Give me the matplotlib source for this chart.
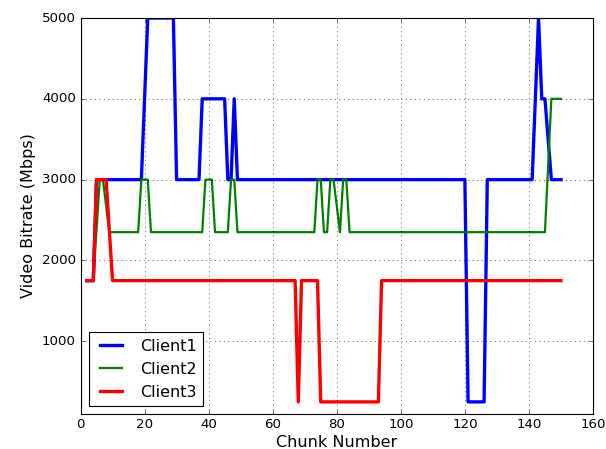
import matplotlib
matplotlib.use("Agg")
import matplotlib.pyplot as plt

# Polyline vertices (chunk number, bitrate)
client1_x = [2, 4, 5, 19, 20, 21, 29, 30, 37, 38, 45, 46, 47, 48, 49,
             120, 121, 126, 127, 141, 142, 143, 144, 145, 147, 150]
client1_y = [1750, 1750, 3000, 3000, 4000, 5000, 5000, 3000, 3000, 4000, 4000, 3000, 3000, 4000, 3000,
             3000, 250, 250, 3000, 3000, 4000, 5000, 4000, 4000, 3000, 3000]

client2_x = [2, 4, 6, 7, 9, 18, 19, 21, 22, 38, 39, 41, 42, 46, 47, 48, 49,
             73, 74, 75, 76, 77, 78, 79, 81, 82, 83, 84, 145, 147, 150]
client2_y = [1750, 1750, 3000, 3000, 2350, 2350, 3000, 3000, 2350, 2350, 3000, 3000, 2350, 2350, 3000, 3000, 2350,
             2350, 3000, 3000, 2350, 2350, 3000, 3000, 2350, 3000, 3000, 2350, 2350, 4000, 4000]

client3_x = [2, 4, 5, 8, 10, 67, 68, 69, 74, 75, 93, 94, 150]
client3_y = [1750, 1750, 3000, 3000, 1750, 1750, 250, 1750, 1750, 250, 250, 1750, 1750]

plt.style.use('classic')
fig = plt.figure(figsize=(606 / 80, 449 / 80), dpi=80)
ax = fig.add_axes([80.5 / 606, 1 - 414 / 449, (593 - 80.5) / 606, (414 - 18) / 449])

ax.plot(client1_x, client1_y, color='b', linewidth=3, label='Client1')
ax.plot(client2_x, client2_y, color='g', linewidth=2, label='Client2')
ax.plot(client3_x, client3_y, color='r', linewidth=3, label='Client3')

ax.set_xlim(0, 160)
ax.set_ylim(100, 5000)
ax.set_yticks([1000, 2000, 3000, 4000, 5000])
ax.set_xlabel('Chunk Number', fontsize='large', labelpad=3)
ax.set_ylabel('Video Bitrate (Mbps)', fontsize='large')
ax.grid(True)
ax.legend(loc='lower left')

fig.savefig("out.png", dpi=80)
